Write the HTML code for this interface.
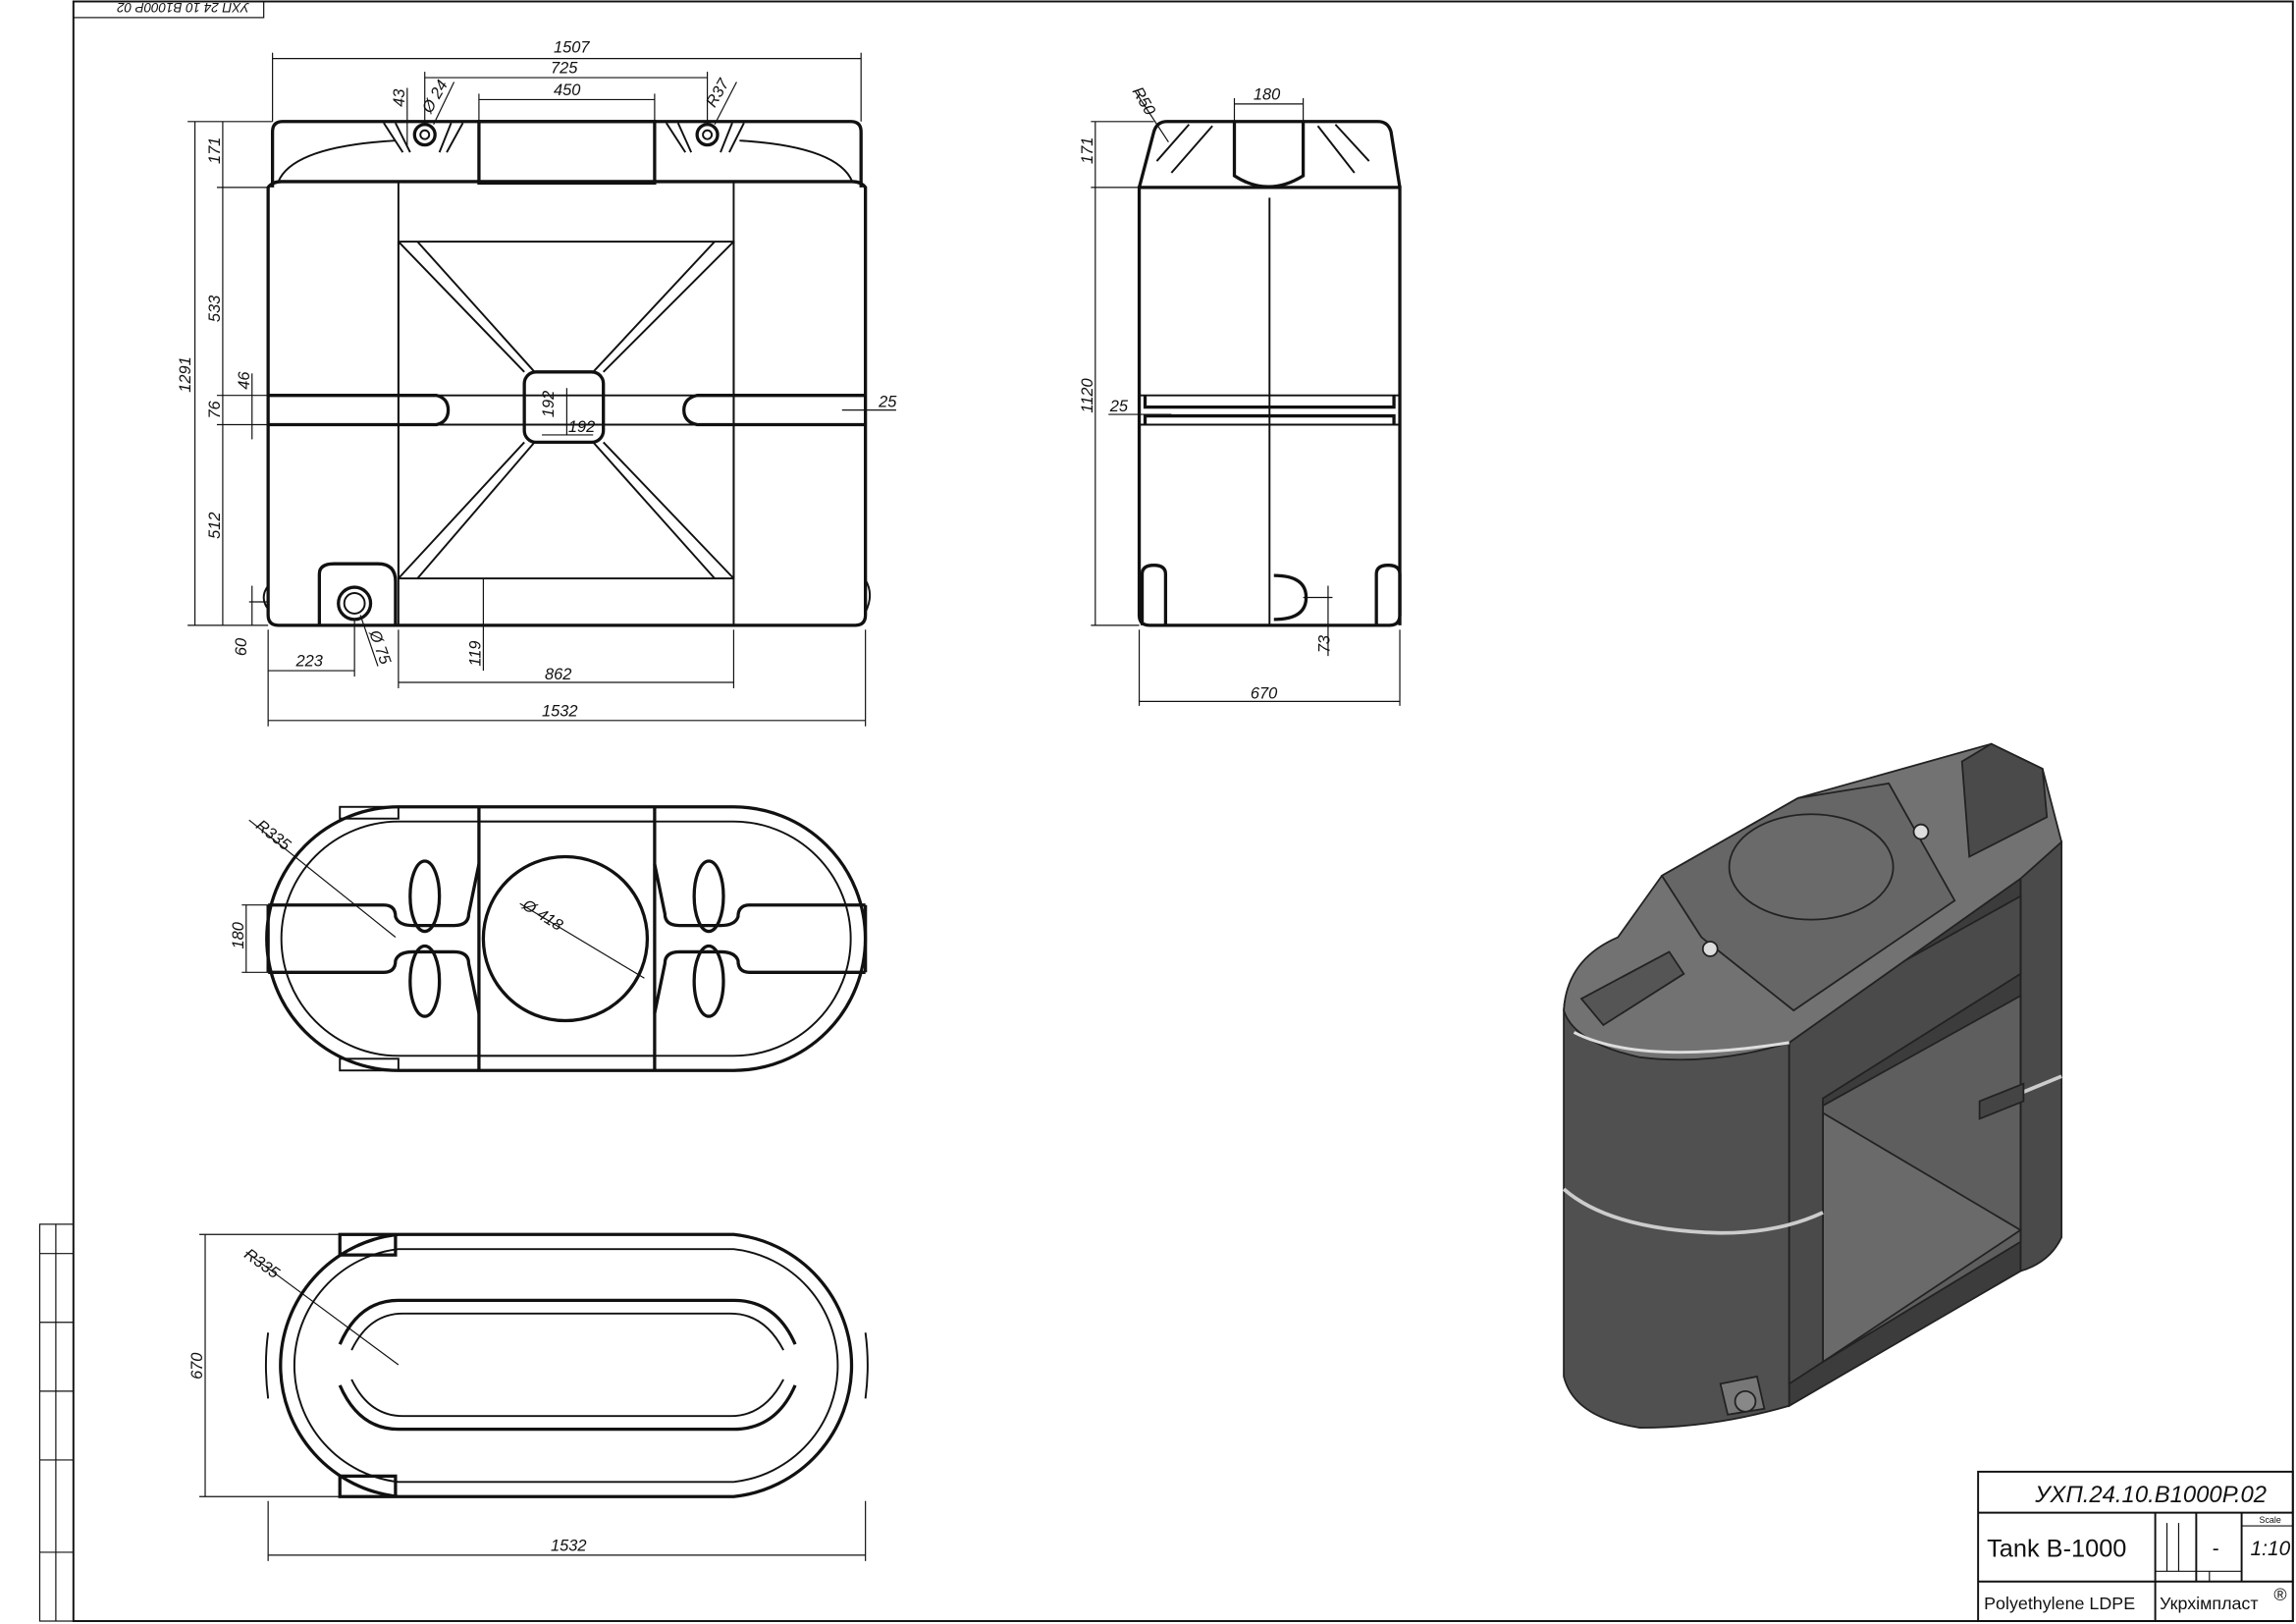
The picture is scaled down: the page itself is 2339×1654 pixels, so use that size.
<!DOCTYPE html>
<html><head><meta charset="utf-8"><style>
html,body{margin:0;padding:0;background:#fff}
svg{display:block}
text{font-family:"Liberation Sans","DejaVu Sans",sans-serif;fill:#111}
.t{stroke:#111;stroke-width:2.2;fill:none}
.m{stroke:#111;stroke-width:1.3;fill:none}
.d{stroke:#111;stroke-width:0.8;fill:none}
</style></head><body>
<svg width="2339" height="1654" viewBox="0 0 1568 1109" xmlns="http://www.w3.org/2000/svg">
<g font-size="11" font-style="italic">
<rect x="50" y="1" width="1516" height="1106" class="m"/>
<rect x="50" y="1" width="130" height="11" class="d"/>
<text x="60" y="10" font-size="9" transform="rotate(180 115 6)">УХП 24 10 В1000Р 02</text>
<rect x="27" y="836" width="23" height="271" class="d"/>
<line x1="38" y1="836" x2="38" y2="1107" class="d"/>
<line x1="27" y1="856" x2="50" y2="856" class="d"/>
<line x1="27" y1="903" x2="50" y2="903" class="d"/>
<line x1="27" y1="950" x2="50" y2="950" class="d"/>
<line x1="27" y1="997" x2="50" y2="997" class="d"/>
<line x1="27" y1="1060" x2="50" y2="1060" class="d"/>

<!-- FRONT VIEW -->
<path class="t" d="M186 128 L186 90 Q186 83 193 83 L581 83 Q588 83 588 90 L588 128"/>
<path class="t" d="M183 128 Q186 124 192 124 L582 124 Q588 124 591 128 L591 420 Q591 427 584 427 L190 427 Q183 427 183 420 Z"/>
<path class="m" d="M190 124 Q200 100 270 96 M582 124 Q572 100 505 96"/>
<rect x="327" y="83" width="120" height="42" class="t"/>
<line x1="272" y1="124" x2="272" y2="427" class="m"/>
<line x1="501" y1="124" x2="501" y2="427" class="m"/>
<rect x="272" y="165" width="229" height="230" class="m"/>
<rect x="358" y="254" width="54" height="48" rx="8" class="t"/>
<path class="m" d="M272 165 L358 254 M501 165 L412 254 M272 395 L358 302 M501 395 L412 302 M285 165 L365 254 M488 165 L405 254 M285 395 L365 302 M488 395 L405 302"/>
<circle cx="290" cy="92" r="7" class="t"/><circle cx="290" cy="92" r="3" class="m"/>
<circle cx="483" cy="92" r="7" class="t"/><circle cx="483" cy="92" r="3" class="m"/>
<path class="m" d="M262 84 L275 104 M270 84 L280 104 M308 84 L300 104 M316 84 L305 104 M455 84 L468 104 M463 84 L472 104 M500 84 L492 104 M508 84 L498 104"/>
<line x1="183" y1="270" x2="591" y2="270" class="m"/>
<line x1="183" y1="290" x2="591" y2="290" class="m"/>
<path class="t" d="M183 270 L298 270 Q306 272 306 280 Q306 288 298 290 L183 290"/>
<path class="t" d="M591 270 L476 270 Q467 272 467 280 Q467 288 476 290 L591 290"/>
<path class="t" d="M218 427 L218 392 Q218 385 228 385 L258 385 Q270 385 270 397 L270 427"/>
<circle cx="242" cy="412" r="11" class="t"/><circle cx="242" cy="412" r="7" class="m"/>
<path class="m" d="M183 400 Q177 408 183 416 M591 396 Q597 406 591 418"/>
<g class="d">
<line x1="186" y1="40" x2="588" y2="40"/><line x1="186" y1="36" x2="186" y2="83"/><line x1="588" y1="36" x2="588" y2="83"/>
<line x1="290" y1="53" x2="483" y2="53"/><line x1="290" y1="49" x2="290" y2="85"/><line x1="483" y1="49" x2="483" y2="85"/>
<line x1="327" y1="68" x2="447" y2="68"/><line x1="327" y1="64" x2="327" y2="83"/><line x1="447" y1="64" x2="447" y2="83"/>
<line x1="278" y1="60" x2="278" y2="100"/><line x1="296" y1="85" x2="310" y2="56"/><line x1="488" y1="85" x2="503" y2="56"/>
<line x1="133" y1="83" x2="133" y2="427"/><line x1="152" y1="83" x2="152" y2="427"/>
<line x1="128" y1="83" x2="186" y2="83"/><line x1="148" y1="128" x2="183" y2="128"/>
<line x1="148" y1="270" x2="183" y2="270"/><line x1="148" y1="290" x2="183" y2="290"/>
<line x1="128" y1="427" x2="183" y2="427"/><line x1="170" y1="411" x2="183" y2="411"/>
<line x1="172" y1="255" x2="172" y2="300"/><line x1="172" y1="400" x2="172" y2="427"/>
<line x1="183" y1="430" x2="183" y2="496"/><line x1="591" y1="430" x2="591" y2="496"/>
<line x1="183" y1="492" x2="591" y2="492"/>
<line x1="183" y1="458" x2="242" y2="458"/><line x1="242" y1="424" x2="242" y2="462"/>
<line x1="272" y1="466" x2="501" y2="466"/><line x1="272" y1="430" x2="272" y2="470"/><line x1="501" y1="430" x2="501" y2="470"/>
<line x1="330" y1="395" x2="330" y2="458"/>
<line x1="387" y1="265" x2="387" y2="297"/><line x1="370" y1="297" x2="405" y2="297"/>
<line x1="246" y1="420" x2="258" y2="455"/>
<line x1="575" y1="280" x2="612" y2="280"/>
</g>
<text x="378" y="36">1507</text><text x="376" y="50">725</text><text x="378" y="65">450</text>
<text x="276" y="73" transform="rotate(-90 276 73)">43</text>
<text x="294" y="78" transform="rotate(-60 294 78)">Ø 24</text>
<text x="488" y="74" transform="rotate(-60 488 74)">R37</text>
<text x="130" y="268" transform="rotate(-90 130 268)">1291</text>
<text x="150" y="112" transform="rotate(-90 150 112)">171</text>
<text x="150" y="220" transform="rotate(-90 150 220)">533</text>
<text x="170" y="266" transform="rotate(-90 170 266)">46</text>
<text x="150" y="286" transform="rotate(-90 150 286)">76</text>
<text x="150" y="368" transform="rotate(-90 150 368)">512</text>
<text x="168" y="448" transform="rotate(-90 168 448)">60</text>
<text x="378" y="285" transform="rotate(-90 378 285)">192</text>
<text x="388" y="295">192</text>
<text x="600" y="278">25</text>
<text x="202" y="455">223</text>
<text x="252" y="432" transform="rotate(70 252 432)">Ø 75</text>
<text x="328" y="455" transform="rotate(-90 328 455)">119</text>
<text x="372" y="464">862</text>
<text x="370" y="489">1532</text>

<!-- SIDE VIEW -->
<path class="t" d="M778 128 L788 90 Q790 83 797 83 L941 83 Q948 83 950 90 L956 128"/>
<path class="t" d="M778 128 L956 128 L956 420 Q956 427 949 427 L785 427 Q778 427 778 420 Z"/>
<path class="t" d="M843 83 L843 120 Q866 135 890 120 L890 83"/>
<path class="m" d="M790 110 L812 85 M800 118 L828 86 M935 110 L912 85 M925 118 L900 86"/>
<line x1="867" y1="135" x2="867" y2="427" class="m"/>
<line x1="778" y1="270" x2="956" y2="270" class="m"/>
<line x1="778" y1="290" x2="956" y2="290" class="m"/>
<path class="t" d="M782 270 L782 278 L952 278 L952 270 M782 290 L782 284 L952 284 L952 290"/>
<path class="t" d="M780 427 L780 392 Q780 386 788 386 Q796 386 796 392 L796 427 M940 427 L940 392 Q940 386 948 386 Q956 386 956 392 L956 427"/>
<path class="t" d="M870 393 Q892 393 892 408 Q892 423 870 423"/>
<g class="d">
<line x1="745" y1="83" x2="788" y2="83"/>
<line x1="748" y1="83" x2="748" y2="427"/><line x1="745" y1="427" x2="778" y2="427"/>
<line x1="745" y1="128" x2="778" y2="128"/>
<line x1="843" y1="71" x2="890" y2="71"/><line x1="843" y1="67" x2="843" y2="83"/><line x1="890" y1="67" x2="890" y2="83"/>
<line x1="778" y1="430" x2="778" y2="482"/><line x1="956" y1="430" x2="956" y2="482"/>
<line x1="778" y1="479" x2="956" y2="479"/>
<line x1="757" y1="283" x2="800" y2="283"/>
<line x1="775" y1="62" x2="798" y2="97"/>
<line x1="907" y1="400" x2="907" y2="448"/><line x1="890" y1="408" x2="910" y2="408"/>
</g>
<text x="746" y="112" transform="rotate(-90 746 112)">171</text>
<text x="746" y="282" transform="rotate(-90 746 282)">1120</text>
<text x="856" y="68">180</text>
<text x="773" y="62" transform="rotate(60 773 62)">R50</text>
<text x="758" y="281">25</text>
<text x="908" y="446" transform="rotate(-90 908 446)">73</text>
<text x="854" y="477">670</text>

<!-- TOP VIEW 1 -->
<path class="t" d="M272 551 L501 551 A90 90 0 0 1 501 731 L272 731 A90 90 0 0 1 272 551 Z"/>
<path class="m" d="M272 561 L501 561 A80 80 0 0 1 501 721 L272 721 A80 80 0 0 1 272 561 Z"/>
<rect x="232" y="551" width="40" height="8" class="m"/><rect x="232" y="723" width="40" height="8" class="m"/>
<line x1="327" y1="551" x2="327" y2="731" class="t"/><line x1="447" y1="551" x2="447" y2="731" class="t"/>
<line x1="327" y1="561" x2="447" y2="561" class="m"/><line x1="327" y1="721" x2="447" y2="721" class="m"/>
<circle cx="386" cy="641" r="56" class="t"/>
<path class="t" d="M183 618 L262 618 Q270 618 270 626 Q272 632 282 632 L310 632 Q320 632 320 624 L327 590 M183 664 L262 664 Q270 664 270 656 Q272 650 282 650 L310 650 Q320 650 320 658 L327 692"/>
<path class="t" d="M591 618 L512 618 Q504 618 504 626 Q502 632 492 632 L464 632 Q454 632 454 624 L447 590 M591 664 L512 664 Q504 664 504 656 Q502 650 492 650 L464 650 Q454 650 454 658 L447 692"/>
<line x1="183" y1="618" x2="183" y2="664" class="t"/><line x1="591" y1="618" x2="591" y2="664" class="t"/>
<ellipse cx="290" cy="612" rx="10" ry="24" class="t"/><ellipse cx="290" cy="670" rx="10" ry="24" class="t"/>
<ellipse cx="484" cy="612" rx="10" ry="24" class="t"/><ellipse cx="484" cy="670" rx="10" ry="24" class="t"/>
<g class="d">
<line x1="170" y1="560" x2="270" y2="640"/><line x1="355" y1="617" x2="440" y2="668"/>
<line x1="168" y1="618" x2="168" y2="664"/><line x1="165" y1="618" x2="183" y2="618"/><line x1="165" y1="664" x2="183" y2="664"/>
</g>
<text x="174" y="565" transform="rotate(38 174 565)">R335</text>
<text x="356" y="620" transform="rotate(32 356 620)">Ø 418</text>
<text x="166" y="648" transform="rotate(-90 166 648)">180</text>

<!-- TOP VIEW 2 -->
<path class="t" d="M272 843 L501 843 A90 90 0 0 1 501 1022 L272 1022 A90 90 0 0 1 272 843 Z"/>
<path class="m" d="M272 853 L501 853 A80 80 0 0 1 501 1012 L272 1012 A80 80 0 0 1 272 853 Z"/>
<rect x="232" y="843" width="38" height="14" class="t"/><rect x="232" y="1008" width="38" height="14" class="t"/>
<path class="t" d="M232 918 Q245 888 272 888 L501 888 Q530 888 543 918 M232 946 Q245 976 272 976 L501 976 Q530 976 543 946"/>
<path class="m" d="M240 922 Q252 897 275 897 L499 897 Q522 897 535 922 M240 942 Q252 967 275 967 L499 967 Q522 967 535 942"/>
<path class="m" d="M183 910 Q180 932 183 955 M591 910 Q594 932 591 955"/>
<g class="d">
<line x1="140" y1="843" x2="140" y2="1022"/><line x1="136" y1="843" x2="232" y2="843"/><line x1="136" y1="1022" x2="232" y2="1022"/>
<line x1="168" y1="855" x2="272" y2="932"/>
<line x1="183" y1="1025" x2="183" y2="1066"/><line x1="591" y1="1025" x2="591" y2="1066"/>
<line x1="183" y1="1062" x2="591" y2="1062"/>
</g>
<text x="166" y="858" transform="rotate(36 166 858)">R335</text>
<text x="138" y="942" transform="rotate(-90 138 942)">670</text>
<text x="376" y="1059">1532</text>

<!-- 3D VIEW -->
<g stroke="#222" stroke-width="1.2">
<path fill="#505050" d="M1068 690 Q1070 655 1110 645 L1222 700 L1222 960 Q1170 975 1120 975 Q1075 968 1068 940 Z"/>
<path fill="#4a4a4a" d="M1380 590 L1408 575 L1408 845 Q1400 862 1380 868 Z"/>
<path fill="#3c3c3c" d="M1222 700 L1380 600 L1380 868 L1222 960 Z"/>
<path fill="#5e5e5e" d="M1245 755 L1380 680 L1380 848 L1245 930 Z"/>
<path fill="#6a6a6a" d="M1245 760 L1380 840 L1245 930 Z"/>
<path fill="#4a4a4a" d="M1222 700 L1380 612 L1380 665 L1245 750 L1245 930 L1222 945 Z"/>
<path fill="#727272" d="M1068 690 Q1070 655 1105 640 L1135 598 L1228 545 L1360 508 L1395 525 L1408 575 L1380 600 L1222 712 Q1170 728 1120 722 Q1075 712 1068 690 Z"/>
<path fill="#666" d="M1135 598 L1228 545 L1290 535 L1335 615 L1225 690 L1162 640 Z"/>
<ellipse cx="1237" cy="592" rx="56" ry="36" fill="#6a6a6a"/>
<path fill="#4a4a4a" d="M1340 520 L1360 508 L1395 525 L1398 558 L1345 585 Z"/>
<path fill="#555" d="M1080 682 L1140 650 L1150 665 L1095 700 Z"/>
<path fill="none" stroke="#ddd" stroke-width="2" d="M1075 705 Q1120 728 1222 712"/>
<path fill="none" stroke="#ccc" stroke-width="2.5" d="M1068 812 Q1100 840 1175 842 Q1215 842 1245 828 M1352 758 L1408 735"/>
<path fill="#444" d="M1352 752 L1382 740 L1382 752 L1352 764 Z"/>
<path fill="#777" d="M1175 945 L1200 940 L1205 962 L1180 966 Z"/>
<circle cx="1192" cy="957" r="7" fill="#888"/>
<circle cx="1168" cy="648" r="5" fill="#ddd"/><circle cx="1312" cy="568" r="5" fill="#ddd"/>
</g>

<!-- TITLE BLOCK -->
<rect x="1351" y="1005" width="215" height="102" class="m"/>
<line x1="1351" y1="1033" x2="1566" y2="1033" class="m"/>
<line x1="1351" y1="1080" x2="1566" y2="1080" class="m"/>
<line x1="1472" y1="1033" x2="1472" y2="1107" class="m"/>
<line x1="1480" y1="1040" x2="1480" y2="1073" class="d"/>
<line x1="1488" y1="1040" x2="1488" y2="1073" class="d"/>
<line x1="1500" y1="1033" x2="1500" y2="1080" class="m"/>
<line x1="1531" y1="1033" x2="1531" y2="1080" class="m"/>
<line x1="1472" y1="1073" x2="1531" y2="1073" class="d"/>
<line x1="1531" y1="1042" x2="1566" y2="1042" class="d"/>
<line x1="1509" y1="1073" x2="1509" y2="1080" class="d"/>
<text x="1390" y="1026" font-size="16">УХП.24.10.В1000Р.02</text>
<text x="1357" y="1063" font-size="17" font-style="normal">Tank B-1000</text>
<text x="1511" y="1062" font-size="14" font-style="normal">-</text>
<text x="1537" y="1062" font-size="14">1:10</text>
<text x="1543" y="1040" font-size="6" font-style="normal">Scale</text>
<text x="1355" y="1099" font-size="12" font-style="normal">Polyethylene LDPE</text>
<text x="1475" y="1099" font-size="12" font-style="normal">Укрхімпласт</text>
<text x="1553" y="1093" font-size="12" font-style="normal">®</text>
</g>
</svg>
</body></html>
